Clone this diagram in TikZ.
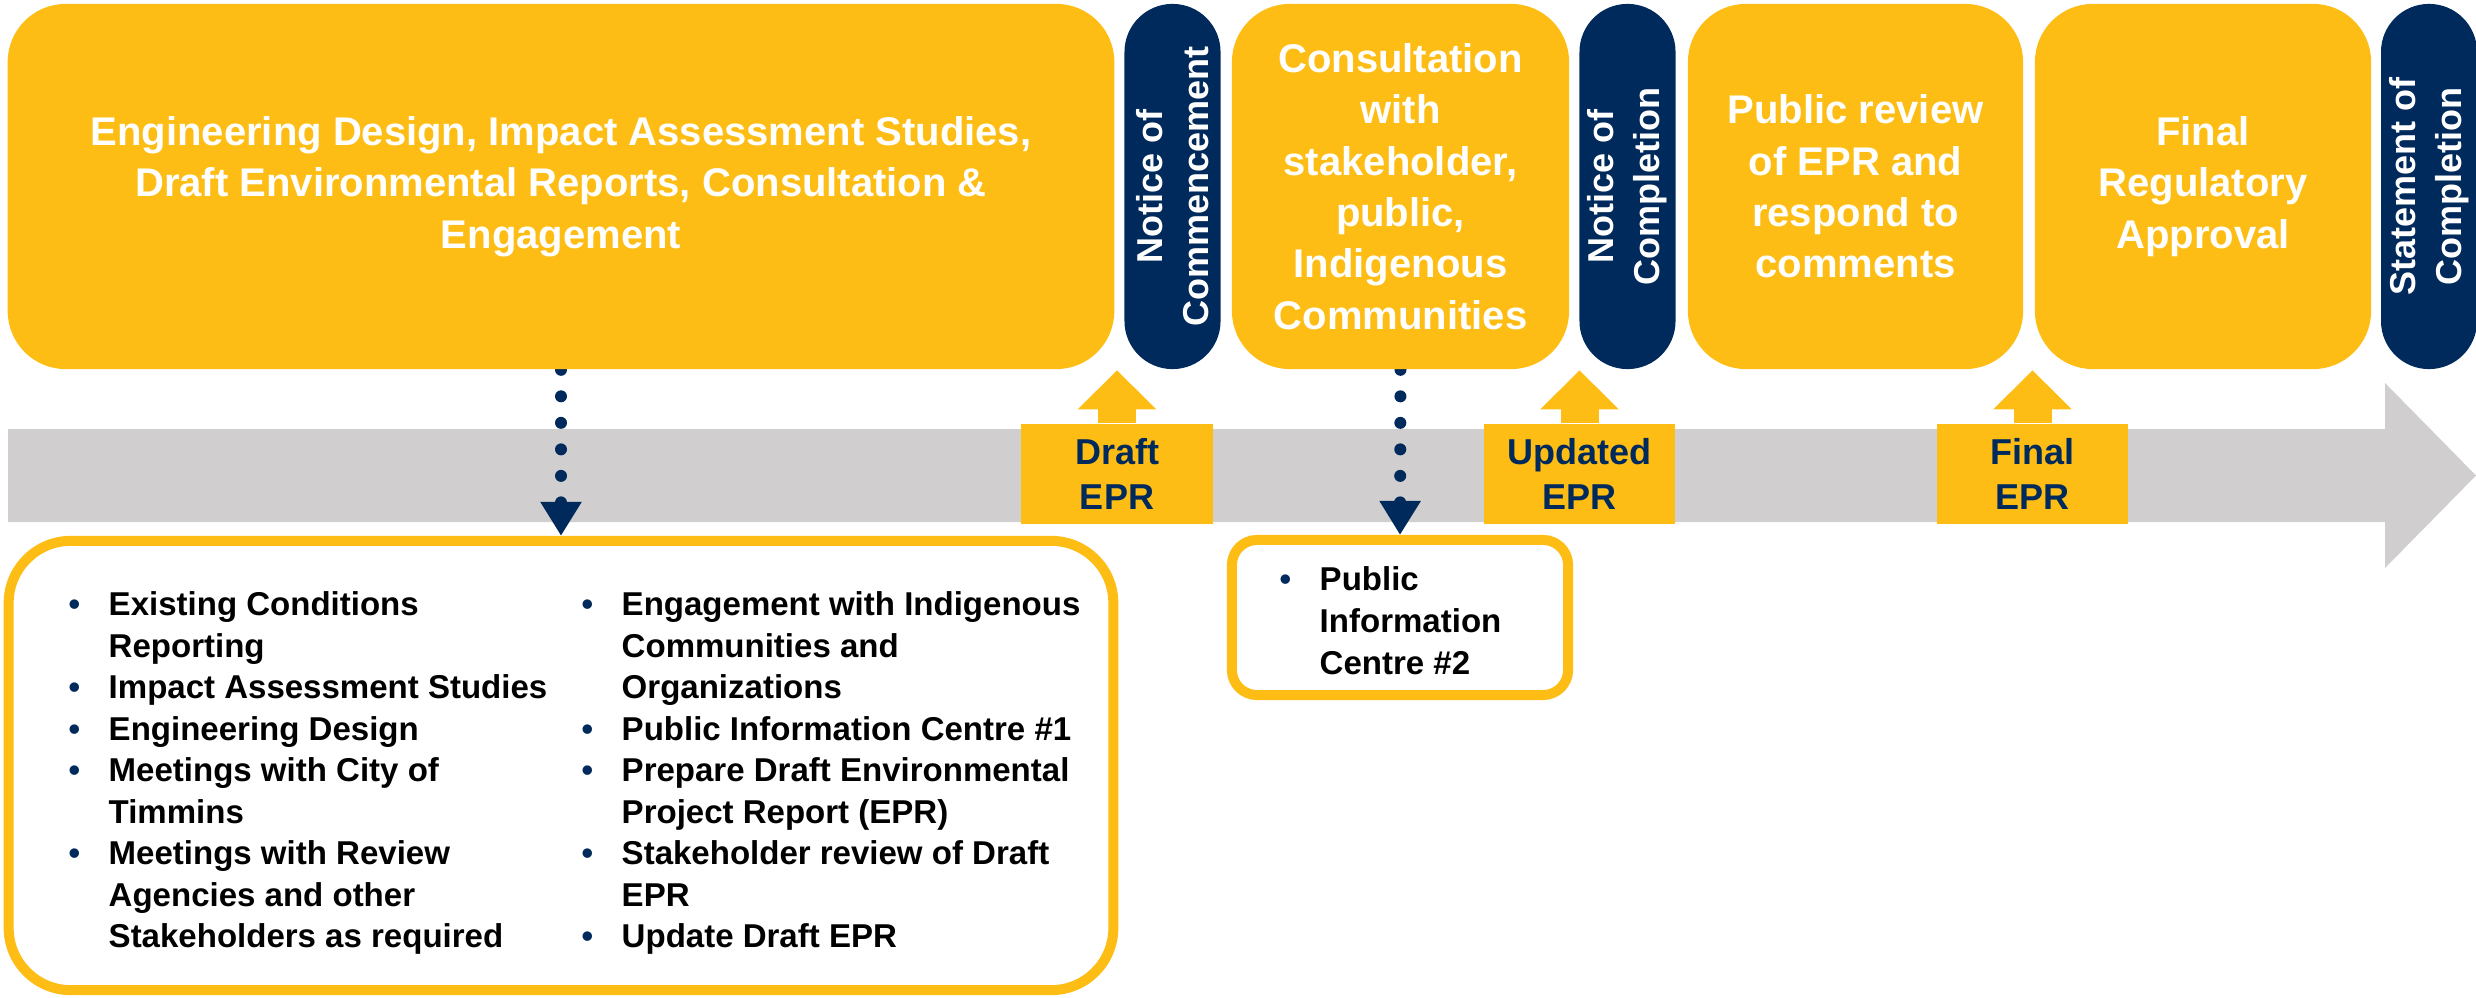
\documentclass[tikz,border=0pt]{standalone}
\usepackage{fontspec}
\setmainfont{Liberation Sans}
\usetikzlibrary{arrows.meta,positioning}
\pgfdeclarelayer{back}
\pgfsetlayers{back,main}

\definecolor{epgold}{HTML}{FDBD14}
\definecolor{epnavy}{HTML}{00295C}
\definecolor{epgrey}{HTML}{D0CECE}

\newcommand{\lstbul}{\makebox[0.40cm][l]{\textcolor{epnavy}{\textbullet}}}
\newcommand{\lstgap}{\hspace*{0.40cm}}

\tikzset{
  phase/.style={fill=epgold, rounded corners=0.58cm, minimum height=3.65cm, inner sep=0pt,
    text=white, align=center, font=\fontsize{11.38}{14.6}\selectfont\bfseries},
  notice/.style={fill=epnavy, rotate=90, minimum width=3.65cm, minimum height=0.96cm,
    rounded corners=0.48cm, inner sep=0pt, text=white, align=center,
    font=\fontsize{10.24}{13.1}\selectfont\bfseries},
  eprbox/.style={fill=epgold, minimum width=1.91cm, minimum height=1.0cm, inner sep=0pt,
    text=epnavy, align=center, font=\fontsize{10.24}{12.8}\selectfont\bfseries},
  uparrow/.style={epgold, line width=0.38cm, -{Triangle[width=0.76cm,length=0.39cm]}},
  dotarrow/.style={epnavy, line width=0.12cm, line cap=round, dash pattern=on 0pt off 0.265cm,
    -{Triangle[width=0.39cm,length=0.34cm]}},
  listbox/.style={draw=epgold, line width=0.1cm, fill=white},
  listtext/.style={anchor=north west, inner sep=0pt, align=left,
    font=\fontsize{9.39}{11.8}\selectfont\bfseries},
}

\begin{document}
\begin{tikzpicture}[x=0.01cm, y=-0.01cm]
        \useasboundingbox (0,0) rectangle (2476,997);

        % Define phases and notices along the top
        \node[phase, minimum width=11.06cm] (design) at (561,186.5)
          {Engineering Design, Impact Assessment Studies,\\ Draft Environmental Reports, Consultation \&\\ Engagement};
        \node[notice] (commence) at (1172.5,186.5) {Notice of\\ Commencement};
        \node[phase, minimum width=3.37cm] (consult) at (1400.5,186.5)
          {Consultation\\ with\\ stakeholder,\\ public,\\ Indigenous\\ Communities};
        \node[notice] (complete) at (1627.5,186.5) {Notice of\\ Completion};
        \node[phase, minimum width=3.35cm] (review) at (1855.5,186.5)
          {Public review\\ of EPR and\\ respond to\\ comments};
        \node[phase, minimum width=3.36cm] (approval) at (2203,186.5)
          {Final\\ Regulatory\\ Approval};
        \node[notice] (statement) at (2429,186.5) {Statement of\\ Completion};

        % Define report milestones on the timeline
        \node[eprbox] (draft) at (1117,474) {Draft\\ EPR};
        \node[eprbox] (updated) at (1579.5,474) {Updated\\ EPR};
        \node[eprbox] (final) at (2032.5,474) {Final\\ EPR};

        % Define activity lists
        \node[listbox, rounded corners=0.62cm, minimum width=11.04cm, minimum height=4.49cm] (tasks) at (561,765.5) {};
        \node[listbox, rounded corners=0.25cm, minimum width=3.36cm, minimum height=1.55cm] (pic) at (1400,617.5) {};
        \node[listtext] (tasksleft) at (68,591)
          {\lstbul Existing Conditions\\ \lstgap Reporting\\ \lstbul Impact Assessment Studies\\
           \lstbul Engineering Design\\ \lstbul Meetings with City of\\ \lstgap Timmins\\
           \lstbul Meetings with Review\\ \lstgap Agencies and other\\ \lstgap Stakeholders as required};
        \node[listtext] (tasksright) at (581,591)
          {\lstbul Engagement with Indigenous\\ \lstgap Communities and\\ \lstgap Organizations\\
           \lstbul Public Information Centre \#1\\ \lstbul Prepare Draft Environmental\\
           \lstgap Project Report (EPR)\\ \lstbul Stakeholder review of Draft\\ \lstgap EPR\\
           \lstbul Update Draft EPR};
        \node[listtext, font=\fontsize{9.39}{11.95}\selectfont\bfseries] (pictext) at (1279,566)
          {\lstbul Public\\ \lstgap Information\\ \lstgap Centre \#2};

        % Draw milestone arrows
        \draw[uparrow] (draft.north) -- ++(0,-53);
        \draw[uparrow] (updated.north) -- ++(0,-53);
        \draw[uparrow] (final.north) -- ++(0,-53);

        % Draw timeline and links behind
        \begin{pgfonlayer}{back}
          \fill[epgrey] (8,429) -- (2385,429) -- (2385,383) -- (2476,475.5)
            -- (2385,568) -- (2385,522) -- (8,522) -- cycle;
          \draw[dotarrow] (design.south) -- (tasks.north);
          \draw[dotarrow] (consult.south) -- (pic.north);
        \end{pgfonlayer}

\end{tikzpicture}
\end{document}
